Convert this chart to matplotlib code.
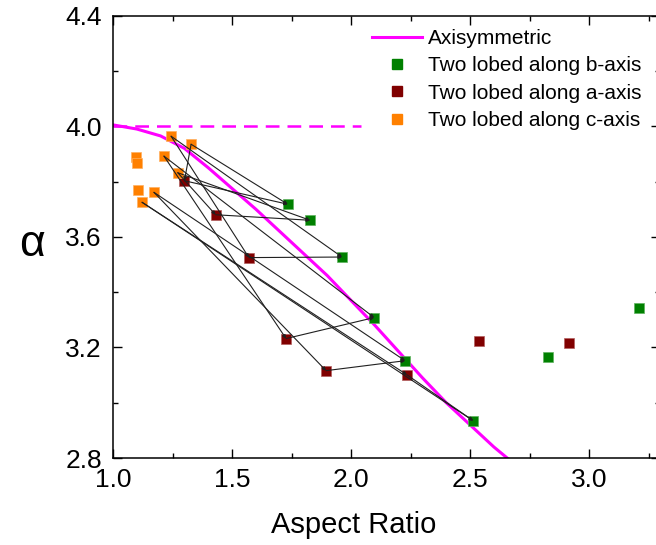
import matplotlib
matplotlib.use('Agg')
import matplotlib.pyplot as plt
from matplotlib.ticker import MultipleLocator
from matplotlib.lines import Line2D

plt.rcParams['font.family'] = ['Liberation Sans', 'DejaVu Sans']

# axisymmetric solution
axisym_ar = [1.00, 1.10, 1.20, 1.30, 1.40, 1.50, 1.60, 1.70, 1.80, 1.90,
             2.00, 2.10, 2.20, 2.30, 2.40, 2.50, 2.60, 2.67]
axisym_alpha = [4.005, 3.99, 3.965, 3.92, 3.85, 3.775, 3.70, 3.62, 3.54, 3.46,
                3.37, 3.28, 3.185, 3.09, 3.00, 2.92, 2.84, 2.79]
limit_ar = [1.0, 2.04]
limit_alpha = [4.0, 4.0]

# two lobed along b-axis (green)
ar_b = [1.734, 1.828, 1.962, 2.097, 2.227, 2.513, 2.828, 3.21]
alpha_b = [3.718, 3.660, 3.527, 3.308, 3.152, 2.935, 3.165, 3.343]
# two lobed along a-axis (dark red)
ar_a = [1.30, 1.431, 1.571, 1.727, 1.895, 2.235, 2.538, 2.915]
alpha_a = [3.803, 3.680, 3.525, 3.232, 3.116, 3.101, 3.225, 3.216]
# two lobed along c-axis (orange)
ar_c = [1.328, 1.272, 1.244, 1.214, 1.172, 1.122, 1.095, 1.099, 1.107]
alpha_c = [3.935, 3.832, 3.964, 3.892, 3.761, 3.725, 3.889, 3.867, 3.771]

# same-system links: index into c, a, b lists
links = [0, 1, 2, 3, 4, 5]

magenta = '#ff00ff'
green = '#008000'
dred = '#800000'
orange = '#ff8000'

fig = plt.figure(figsize=(6.56, 5.45), dpi=100)
ax = fig.add_axes([0.1723, 0.1596, 0.8345, 0.8116])

ax.plot(axisym_ar, axisym_alpha, color=magenta, lw=2.2, zorder=2)
ax.plot(limit_ar, limit_alpha, color=magenta, lw=1.8, ls=(0, (5.5, 3.2)), zorder=2)

ax.plot(ar_b, alpha_b, 's', color=green, ms=6.5, mec='#5fb35f', mew=0.5, zorder=3)
ax.plot(ar_a, alpha_a, 's', color=dred, ms=6.5, mec='#b35f5f', mew=0.5, zorder=3)
ax.plot(ar_c, alpha_c, 's', color=orange, ms=6.5, mec='#ffb060', mew=0.5, zorder=3)

arr = dict(arrowstyle='-|>', mutation_scale=5, lw=0.8, color='#202020',
           shrinkA=0, shrinkB=0)
for i in links:
    c = (ar_c[i], alpha_c[i])
    a = (ar_a[i], alpha_a[i])
    b = (ar_b[i], alpha_b[i])
    ax.annotate('', xy=a, xytext=c, arrowprops=arr, zorder=4)
    ax.annotate('', xy=b, xytext=a, arrowprops=arr, zorder=4)
    ax.annotate('', xy=b, xytext=c, arrowprops=arr, zorder=4)

ax.set_xlim(1.0, 3.3)
ax.set_ylim(2.8, 4.4)
ax.xaxis.set_major_locator(MultipleLocator(0.5))
ax.xaxis.set_minor_locator(MultipleLocator(0.25))
ax.yaxis.set_major_locator(MultipleLocator(0.4))
ax.yaxis.set_minor_locator(MultipleLocator(0.2))
ax.tick_params(which='both', direction='in', top=True, right=True, width=1.0)
ax.tick_params(which='major', length=6.5, labelsize=19)
ax.tick_params(which='minor', length=3.5)
ax.tick_params(axis='x', which='major', pad=7)
ax.tick_params(axis='y', which='major', pad=8)
for s in ax.spines.values():
    s.set_linewidth(1.1)

ax.set_xlabel('Aspect Ratio', fontsize=21)
ax.xaxis.set_label_coords(0.439, -0.12)
ax.set_ylabel('α', fontsize=32, rotation=0, ha='center', va='center')
ax.yaxis.set_label_coords(-0.148, 0.482)

handles = [
    Line2D([], [], color=magenta, lw=2.2),
    Line2D([], [], ls='none', marker='s', color=green, ms=6.5),
    Line2D([], [], ls='none', marker='s', color=dred, ms=6.5),
    Line2D([], [], ls='none', marker='s', color=orange, ms=6.5),
]
labels = ['Axisymmetric', 'Two lobed along b-axis',
          'Two lobed along a-axis', 'Two lobed along c-axis']
fig.legend(handles, labels, loc='upper left', bbox_to_anchor=(372 / 656, 1 - 29 / 545),
           frameon=False, fontsize=15, handlelength=2.4, handletextpad=0.3,
           labelspacing=0.4, borderpad=0, borderaxespad=0, numpoints=1)

plt.savefig('out.png', dpi=100)
